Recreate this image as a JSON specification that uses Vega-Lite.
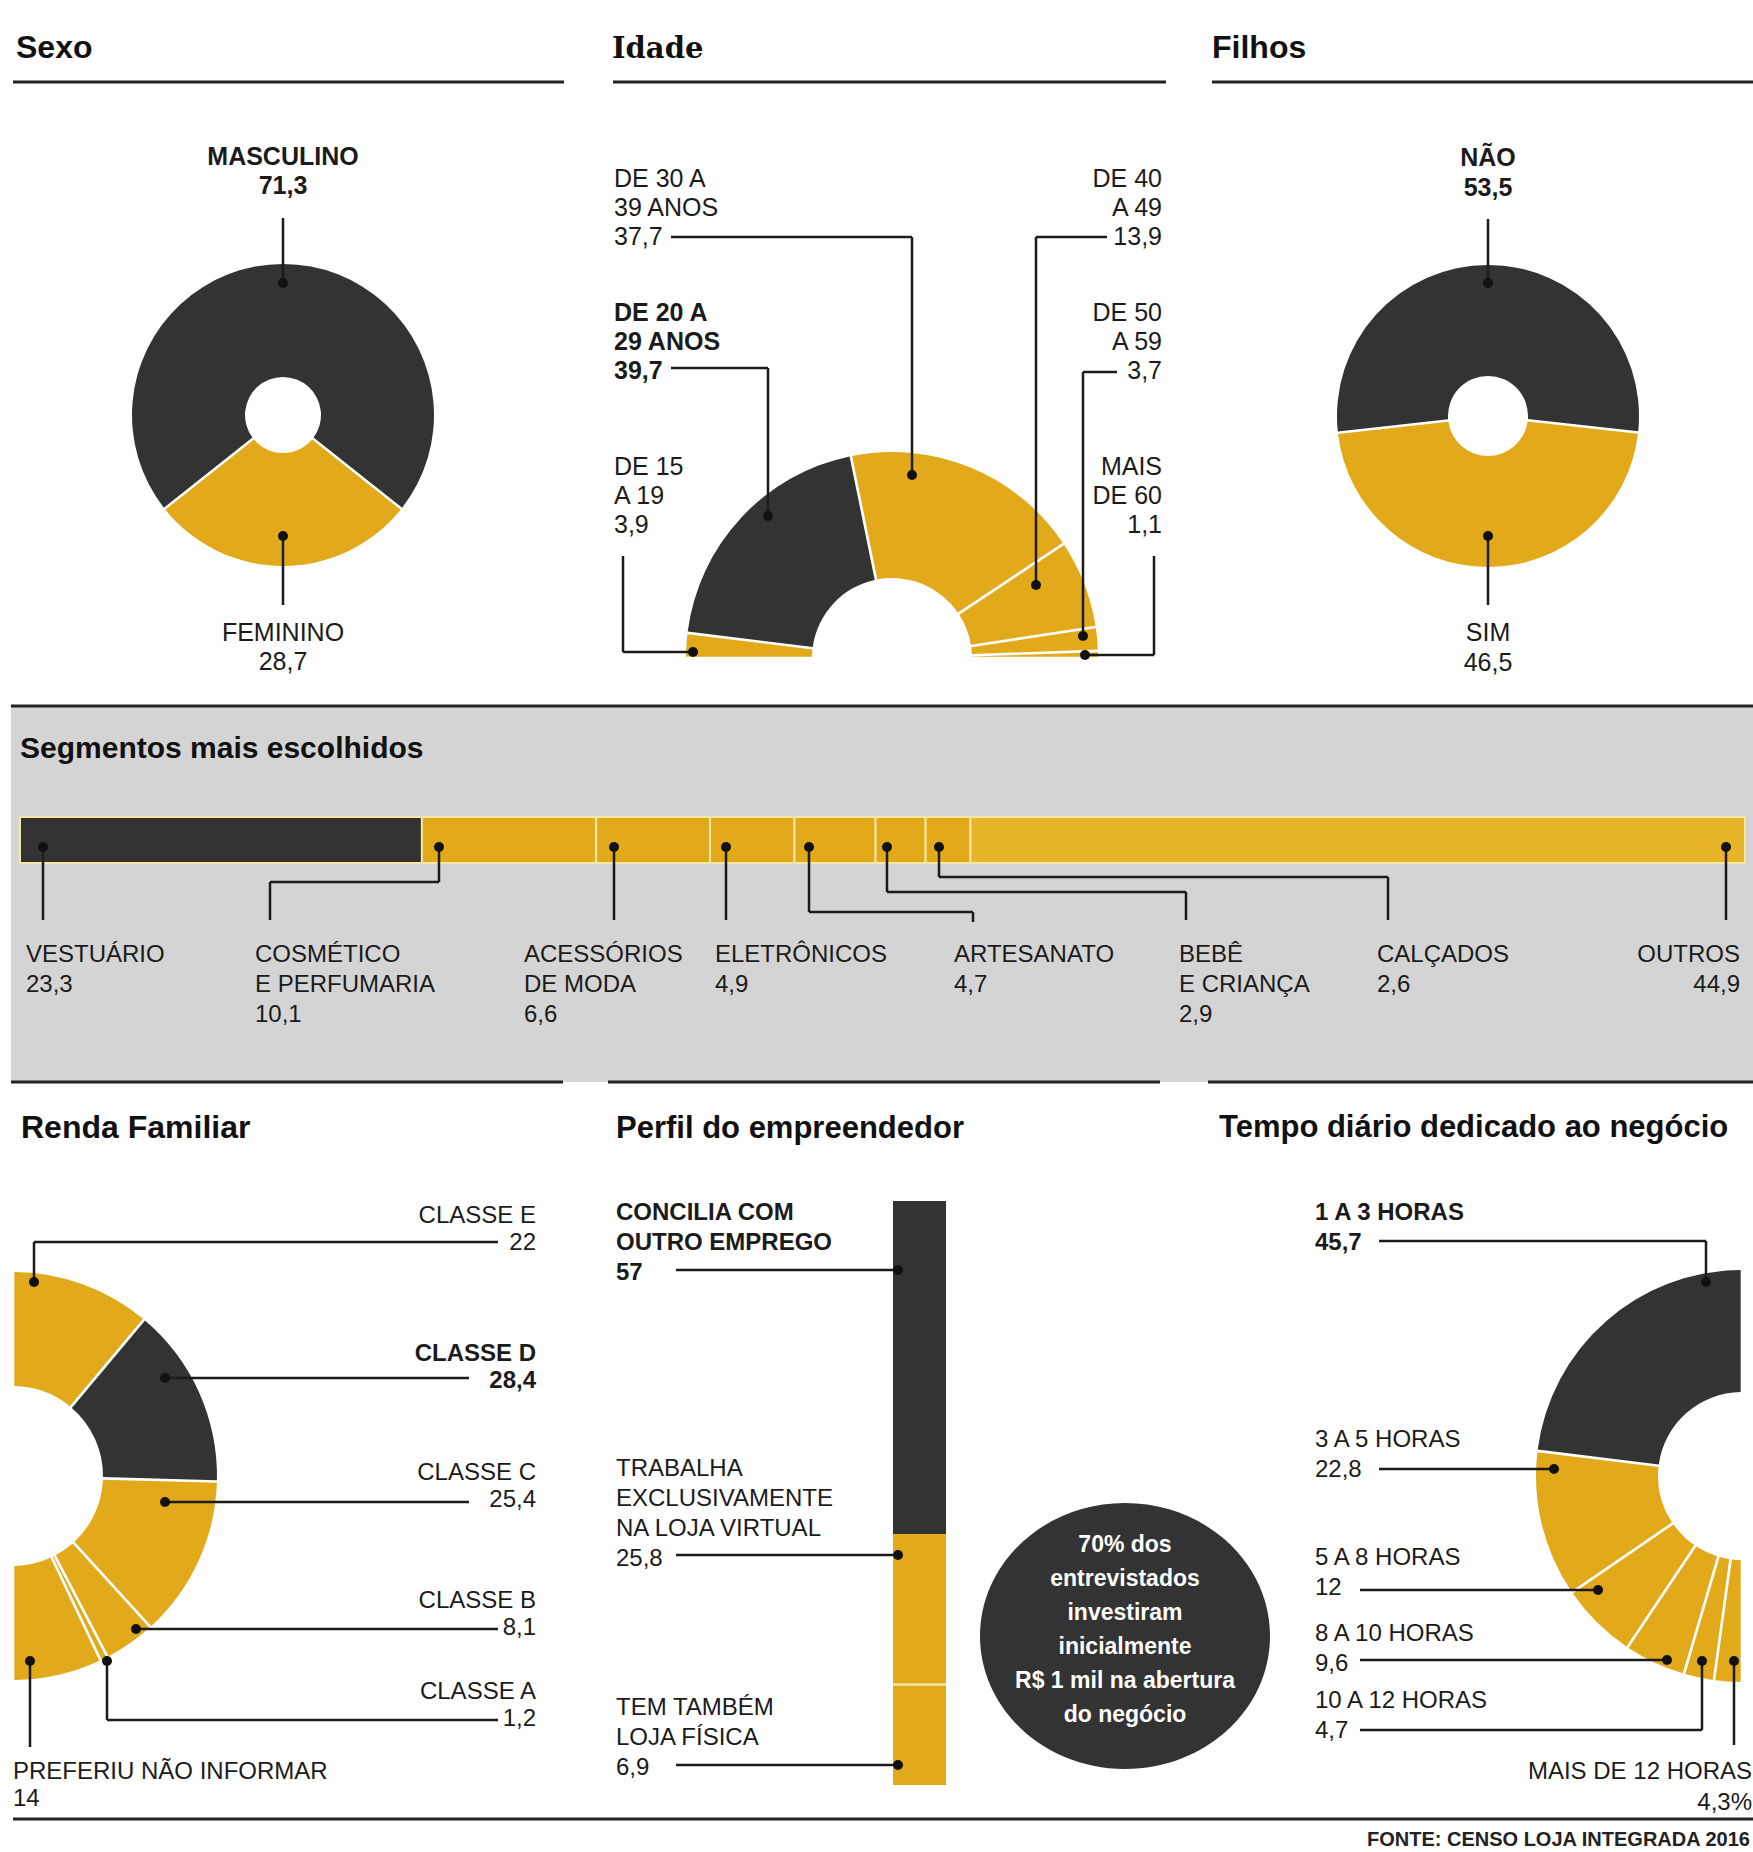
{
"$schema":"https://vega.github.io/schema/vega-lite/v6.json",
"width":1753,"height":1852,"autosize":{"type":"none"},"padding":0,"background":"#ffffff",
"config":{"view":{"stroke":null},"axis":{"disable":true},"legend":{"disable":true},"text":{"font":"Liberation Sans","color":"#1b1b1b"}},
"datasets":{
"sexo":[{"category":"MASCULINO","label":"MASCULINO","value":71.3},{"category":"FEMININO","label":"FEMININO","value":28.7}],
"idade":[{"category":"DE 15 A 19","label":"DE 15\nA 19","value":3.9},{"category":"DE 20 A 29 ANOS","label":"DE 20 A\n29 ANOS","value":39.7},{"category":"DE 30 A 39 ANOS","label":"DE 30 A\n39 ANOS","value":37.7},{"category":"DE 40 A 49","label":"DE 40\nA 49","value":13.9},{"category":"DE 50 A 59","label":"DE 50\nA 59","value":3.7},{"category":"MAIS DE 60","label":"MAIS\nDE 60","value":1.1}],
"filhos":[{"category":"NÃO","label":"NÃO","value":53.5},{"category":"SIM","label":"SIM","value":46.5}],
"segmentos":[{"category":"VESTUÁRIO","label":"VESTUÁRIO","value":23.3},{"category":"COSMÉTICO E PERFUMARIA","label":"COSMÉTICO\nE PERFUMARIA","value":10.1},{"category":"ACESSÓRIOS DE MODA","label":"ACESSÓRIOS\nDE MODA","value":6.6},{"category":"ELETRÔNICOS","label":"ELETRÔNICOS","value":4.9},{"category":"ARTESANATO","label":"ARTESANATO","value":4.7},{"category":"BEBÊ E CRIANÇA","label":"BEBÊ\nE CRIANÇA","value":2.9},{"category":"CALÇADOS","label":"CALÇADOS","value":2.6},{"category":"OUTROS","label":"OUTROS","value":44.9}],
"renda":[{"category":"CLASSE E","label":"CLASSE E","value":22},{"category":"CLASSE D","label":"CLASSE D","value":28.4},{"category":"CLASSE C","label":"CLASSE C","value":25.4},{"category":"CLASSE B","label":"CLASSE B","value":8.1},{"category":"CLASSE A","label":"CLASSE A","value":1.2},{"category":"PREFERIU NÃO INFORMAR","label":"PREFERIU NÃO INFORMAR","value":14}],
"perfil":[{"category":"CONCILIA COM OUTRO EMPREGO","label":"CONCILIA COM\nOUTRO EMPREGO","value":57},{"category":"TRABALHA EXCLUSIVAMENTE NA LOJA VIRTUAL","label":"TRABALHA\nEXCLUSIVAMENTE\nNA LOJA VIRTUAL","value":25.8},{"category":"TEM TAMBÉM LOJA FÍSICA","label":"TEM TAMBÉM\nLOJA FÍSICA","value":6.9}],
"tempo":[{"category":"1 A 3 HORAS","label":"1 A 3 HORAS","value":45.7},{"category":"3 A 5 HORAS","label":"3 A 5 HORAS","value":22.8},{"category":"5 A 8 HORAS","label":"5 A 8 HORAS","value":12},{"category":"8 A 10 HORAS","label":"8 A 10 HORAS","value":9.6},{"category":"10 A 12 HORAS","label":"10 A 12 HORAS","value":4.7},{"category":"MAIS DE 12 HORAS","label":"MAIS DE 12 HORAS","value":4.3}]
},
"resolve":{"scale":{"x":"independent","y":"independent"}},
"layer":[
{"data":{"values":[{}]},"mark":{"type":"rect","color":"#d4d4d4"},"encoding":{"x":{"datum":11,"type":"quantitative","scale":{"domain":[0,1753],"nice":false,"zero":false}},"x2":{"datum":1753},"y":{"datum":706,"type":"quantitative","scale":{"domain":[0,1852],"reverse":true,"nice":false,"zero":false}},"y2":{"datum":1082}}},
{"data":{"name":"segmentos"},"transform":[{"window":[{"op":"row_number","as":"i"}]},{"stack":"value","groupby":[],"sort":[{"field":"i","order":"ascending"}],"as":["v0","v1"]}],
 "mark":{"type":"rect","stroke":"#f6e7a6","strokeWidth":2},
 "encoding":{"x":{"field":"v0","type":"quantitative","scale":{"domain":[-1.1594,100.464],"nice":false,"zero":false}},"x2":{"field":"v1"},"y":{"datum":817,"type":"quantitative","scale":{"domain":[0,1852],"reverse":true,"nice":false,"zero":false}},"y2":{"datum":863},
 "color":{"condition":[{"test":"datum.category=='VESTUÁRIO'","value":"#333333"},{"test":"datum.category=='OUTROS'","value":"#e7b527"}],"value":"#e2aa1b"}}},
{"data":{"name":"perfil"},"transform":[{"window":[{"op":"row_number","as":"i"}]},{"stack":"value","groupby":[],"sort":[{"field":"i","order":"ascending"}],"as":["v0","v1"]}],
 "layer":[
 {"transform":[{"filter":"datum.i==1"}],"mark":{"type":"rect","color":"#e2aa1b"},"encoding":{"x":{"datum":893,"type":"quantitative","scale":{"domain":[0,1753],"nice":false,"zero":false}},"x2":{"datum":946},"y":{"datum":0,"type":"quantitative","scale":{"domain":[-205.65,111.47],"reverse":true,"nice":false,"zero":false}},"y2":{"datum":100}}},
 {"mark":{"type":"rect"},"encoding":{"x":{"datum":893,"type":"quantitative"},"x2":{"datum":946},"y":{"field":"v0","type":"quantitative"},"y2":{"field":"v1"},
  "color":{"condition":{"test":"datum.category=='CONCILIA COM OUTRO EMPREGO'","value":"#333333"},"value":"#e2aa1b"}}},
 {"transform":[{"filter":"datum.i==2"}],"mark":{"type":"rule","color":"#f6e7a6","strokeWidth":2.5},"encoding":{"x":{"datum":893,"type":"quantitative"},"x2":{"datum":946},"y":{"field":"v1","type":"quantitative"}}}
 ]},
{"resolve":{"scale":{"theta":"independent"}},
 "layer":[
 {"data":{"values":[{}]},"mark":{"type":"rule","color":"#222222","strokeWidth":3},"encoding":{"x":{"datum":13,"type":"quantitative","scale":{"domain":[0,1753],"nice":false,"zero":false}},"x2":{"datum":564},"y":{"datum":82,"type":"quantitative","scale":{"domain":[0,1852],"reverse":true,"nice":false,"zero":false}}}},
 {"data":{"values":[{}]},"mark":{"type":"rule","color":"#222222","strokeWidth":3},"encoding":{"x":{"datum":613,"type":"quantitative"},"x2":{"datum":1166},"y":{"datum":82,"type":"quantitative"}}},
 {"data":{"values":[{}]},"mark":{"type":"rule","color":"#222222","strokeWidth":3},"encoding":{"x":{"datum":1212,"type":"quantitative"},"x2":{"datum":1753},"y":{"datum":82,"type":"quantitative"}}},
 {"data":{"values":[{}]},"mark":{"type":"rule","color":"#222222","strokeWidth":3},"encoding":{"x":{"datum":11,"type":"quantitative"},"x2":{"datum":1753},"y":{"datum":706,"type":"quantitative"}}},
 {"data":{"values":[{}]},"mark":{"type":"rule","color":"#222222","strokeWidth":3},"encoding":{"x":{"datum":11,"type":"quantitative"},"x2":{"datum":563},"y":{"datum":1082,"type":"quantitative"}}},
 {"data":{"values":[{}]},"mark":{"type":"rule","color":"#222222","strokeWidth":3},"encoding":{"x":{"datum":608,"type":"quantitative"},"x2":{"datum":1160},"y":{"datum":1082,"type":"quantitative"}}},
 {"data":{"values":[{}]},"mark":{"type":"rule","color":"#222222","strokeWidth":3},"encoding":{"x":{"datum":1208,"type":"quantitative"},"x2":{"datum":1753},"y":{"datum":1082,"type":"quantitative"}}},
 {"data":{"values":[{}]},"mark":{"type":"rule","color":"#222222","strokeWidth":3},"encoding":{"x":{"datum":13,"type":"quantitative"},"x2":{"datum":1753},"y":{"datum":1819,"type":"quantitative"}}},
 {"data":{"values":[{}]},"mark":{"type":"text","text":"Sexo","align":"left","baseline":"alphabetic","fontSize":32,"fontWeight":"bold","color":"#111111"},"encoding":{"x":{"datum":16,"type":"quantitative"},"y":{"datum":58,"type":"quantitative"}}},
 {"data":{"values":[{}]},"mark":{"type":"text","text":"Idade","align":"left","baseline":"alphabetic","fontSize":29,"fontWeight":"bold","font":"DejaVu Serif","color":"#111111"},"encoding":{"x":{"datum":612,"type":"quantitative"},"y":{"datum":58,"type":"quantitative"}}},
 {"data":{"values":[{}]},"mark":{"type":"text","text":"Filhos","align":"left","baseline":"alphabetic","fontSize":32,"fontWeight":"bold","color":"#111111"},"encoding":{"x":{"datum":1212,"type":"quantitative"},"y":{"datum":58,"type":"quantitative"}}},
 {"data":{"values":[{}]},"mark":{"type":"text","text":"Segmentos mais escolhidos","align":"left","baseline":"alphabetic","fontSize":30,"fontWeight":"bold","color":"#111111"},"encoding":{"x":{"datum":20,"type":"quantitative"},"y":{"datum":758,"type":"quantitative"}}},
 {"data":{"values":[{}]},"mark":{"type":"text","text":"Renda Familiar","align":"left","baseline":"alphabetic","fontSize":32,"fontWeight":"bold","color":"#111111"},"encoding":{"x":{"datum":21,"type":"quantitative"},"y":{"datum":1138,"type":"quantitative"}}},
 {"data":{"values":[{}]},"mark":{"type":"text","text":"Perfil do empreendedor","align":"left","baseline":"alphabetic","fontSize":31,"fontWeight":"bold","color":"#111111"},"encoding":{"x":{"datum":616,"type":"quantitative"},"y":{"datum":1138,"type":"quantitative"}}},
 {"data":{"values":[{}]},"mark":{"type":"text","text":"Tempo diário dedicado ao negócio","align":"left","baseline":"alphabetic","fontSize":31,"fontWeight":"bold","color":"#111111"},"encoding":{"x":{"datum":1219,"type":"quantitative"},"y":{"datum":1137,"type":"quantitative"}}},
 {"data":{"values":[{}]},"mark":{"type":"text","text":"FONTE: CENSO LOJA INTEGRADA 2016","align":"right","baseline":"alphabetic","fontSize":20,"fontWeight":"bold","color":"#222222"},"encoding":{"x":{"datum":1750,"type":"quantitative"},"y":{"datum":1846,"type":"quantitative"}}},

 {"data":{"name":"sexo"},"transform":[{"calculate":"datum.label+'\\n'+replace(format(datum.value,'.1~f'),'.',',')","as":"txt"},{"window":[{"op":"row_number","as":"i"}]},{"stack":"value","groupby":[],"sort":[{"field":"i","order":"ascending"}],"as":["v0","v1"]}],
  "layer":[
  {"mark":{"type":"arc","outerRadius":151,"innerRadius":38,"padAngle":0.016},"encoding":{"x":{"datum":283,"type":"quantitative"},"y":{"datum":415,"type":"quantitative"},"theta":{"field":"v0","type":"quantitative","scale":{"domain":[0,100],"range":[4.0433,10.3265]}},"theta2":{"field":"v1"},"color":{"condition":{"test":"datum.category=='MASCULINO'","value":"#333333"},"value":"#e2aa1b"}}},
  {"transform":[{"filter":"datum.category=='MASCULINO'"}],"layer":[
   {"mark":{"type":"rule","color":"#1b1b1b","strokeWidth":2.5},"encoding":{"x":{"datum":283,"type":"quantitative"},"y":{"datum":218,"type":"quantitative"},"y2":{"datum":283}}},
   {"mark":{"type":"circle","size":100,"color":"#111111","opacity":1},"encoding":{"x":{"datum":283,"type":"quantitative"},"y":{"datum":283,"type":"quantitative"}}},
   {"mark":{"type":"text","align":"center","baseline":"alphabetic","fontSize":25,"fontWeight":"bold","lineHeight":29,"lineBreak":"\n"},"encoding":{"x":{"datum":283,"type":"quantitative"},"y":{"datum":165,"type":"quantitative"},"text":{"field":"txt"}}}]},
  {"transform":[{"filter":"datum.category=='FEMININO'"}],"layer":[
   {"mark":{"type":"rule","color":"#1b1b1b","strokeWidth":2.5},"encoding":{"x":{"datum":283,"type":"quantitative"},"y":{"datum":536,"type":"quantitative"},"y2":{"datum":605}}},
   {"mark":{"type":"circle","size":100,"color":"#111111","opacity":1},"encoding":{"x":{"datum":283,"type":"quantitative"},"y":{"datum":536,"type":"quantitative"}}},
   {"mark":{"type":"text","align":"center","baseline":"alphabetic","fontSize":25,"lineHeight":29,"lineBreak":"\n"},"encoding":{"x":{"datum":283,"type":"quantitative"},"y":{"datum":641,"type":"quantitative"},"text":{"field":"txt"}}}]}
 ]},

 {"data":{"name":"idade"},"transform":[{"calculate":"datum.label+'\\n'+replace(format(datum.value,'.1~f'),'.',',')","as":"txt"},{"window":[{"op":"row_number","as":"i"}]},{"stack":"value","groupby":[],"sort":[{"field":"i","order":"ascending"}],"as":["v0","v1"]}],
  "layer":[
  {"mark":{"type":"arc","outerRadius":206,"innerRadius":80,"padAngle":0.012},"encoding":{"x":{"datum":892,"type":"quantitative"},"y":{"datum":658,"type":"quantitative"},"theta":{"field":"v0","type":"quantitative","scale":{"domain":[0,100],"range":[-1.5708,1.5708]}},"theta2":{"field":"v1"},"color":{"condition":{"test":"datum.category=='DE 20 A 29 ANOS'","value":"#333333"},"value":"#e2aa1b"}}},
  {"transform":[{"filter":"datum.category=='DE 30 A 39 ANOS'"}],"layer":[
   {"mark":{"type":"rule","color":"#1b1b1b","strokeWidth":2.5},"encoding":{"x":{"datum":671,"type":"quantitative"},"x2":{"datum":912},"y":{"datum":237,"type":"quantitative"}}},
   {"mark":{"type":"rule","color":"#1b1b1b","strokeWidth":2.5},"encoding":{"x":{"datum":912,"type":"quantitative"},"y":{"datum":237,"type":"quantitative"},"y2":{"datum":475}}},
   {"mark":{"type":"circle","size":100,"color":"#111111","opacity":1},"encoding":{"x":{"datum":912,"type":"quantitative"},"y":{"datum":475,"type":"quantitative"}}},
   {"mark":{"type":"text","align":"left","baseline":"alphabetic","fontSize":25,"lineHeight":29,"lineBreak":"\n"},"encoding":{"x":{"datum":614,"type":"quantitative"},"y":{"datum":187,"type":"quantitative"},"text":{"field":"txt"}}}]},
  {"transform":[{"filter":"datum.category=='DE 20 A 29 ANOS'"}],"layer":[
   {"mark":{"type":"rule","color":"#1b1b1b","strokeWidth":2.5},"encoding":{"x":{"datum":671,"type":"quantitative"},"x2":{"datum":768},"y":{"datum":368,"type":"quantitative"}}},
   {"mark":{"type":"rule","color":"#1b1b1b","strokeWidth":2.5},"encoding":{"x":{"datum":768,"type":"quantitative"},"y":{"datum":368,"type":"quantitative"},"y2":{"datum":516}}},
   {"mark":{"type":"circle","size":100,"color":"#111111","opacity":1},"encoding":{"x":{"datum":768,"type":"quantitative"},"y":{"datum":516,"type":"quantitative"}}},
   {"mark":{"type":"text","align":"left","baseline":"alphabetic","fontSize":25,"fontWeight":"bold","lineHeight":29,"lineBreak":"\n"},"encoding":{"x":{"datum":614,"type":"quantitative"},"y":{"datum":321,"type":"quantitative"},"text":{"field":"txt"}}}]},
  {"transform":[{"filter":"datum.category=='DE 15 A 19'"}],"layer":[
   {"mark":{"type":"rule","color":"#1b1b1b","strokeWidth":2.5},"encoding":{"x":{"datum":623,"type":"quantitative"},"y":{"datum":556,"type":"quantitative"},"y2":{"datum":652}}},
   {"mark":{"type":"rule","color":"#1b1b1b","strokeWidth":2.5},"encoding":{"x":{"datum":623,"type":"quantitative"},"x2":{"datum":693},"y":{"datum":652,"type":"quantitative"}}},
   {"mark":{"type":"circle","size":100,"color":"#111111","opacity":1},"encoding":{"x":{"datum":693,"type":"quantitative"},"y":{"datum":652,"type":"quantitative"}}},
   {"mark":{"type":"text","align":"left","baseline":"alphabetic","fontSize":25,"lineHeight":29,"lineBreak":"\n"},"encoding":{"x":{"datum":614,"type":"quantitative"},"y":{"datum":475,"type":"quantitative"},"text":{"field":"txt"}}}]},
  {"transform":[{"filter":"datum.category=='DE 40 A 49'"}],"layer":[
   {"mark":{"type":"rule","color":"#1b1b1b","strokeWidth":2.5},"encoding":{"x":{"datum":1036,"type":"quantitative"},"x2":{"datum":1107},"y":{"datum":237,"type":"quantitative"}}},
   {"mark":{"type":"rule","color":"#1b1b1b","strokeWidth":2.5},"encoding":{"x":{"datum":1036,"type":"quantitative"},"y":{"datum":237,"type":"quantitative"},"y2":{"datum":585}}},
   {"mark":{"type":"circle","size":100,"color":"#111111","opacity":1},"encoding":{"x":{"datum":1036,"type":"quantitative"},"y":{"datum":585,"type":"quantitative"}}},
   {"mark":{"type":"text","align":"right","baseline":"alphabetic","fontSize":25,"lineHeight":29,"lineBreak":"\n"},"encoding":{"x":{"datum":1162,"type":"quantitative"},"y":{"datum":187,"type":"quantitative"},"text":{"field":"txt"}}}]},
  {"transform":[{"filter":"datum.category=='DE 50 A 59'"}],"layer":[
   {"mark":{"type":"rule","color":"#1b1b1b","strokeWidth":2.5},"encoding":{"x":{"datum":1083,"type":"quantitative"},"x2":{"datum":1117},"y":{"datum":372,"type":"quantitative"}}},
   {"mark":{"type":"rule","color":"#1b1b1b","strokeWidth":2.5},"encoding":{"x":{"datum":1083,"type":"quantitative"},"y":{"datum":372,"type":"quantitative"},"y2":{"datum":636}}},
   {"mark":{"type":"circle","size":100,"color":"#111111","opacity":1},"encoding":{"x":{"datum":1083,"type":"quantitative"},"y":{"datum":636,"type":"quantitative"}}},
   {"mark":{"type":"text","align":"right","baseline":"alphabetic","fontSize":25,"lineHeight":29,"lineBreak":"\n"},"encoding":{"x":{"datum":1162,"type":"quantitative"},"y":{"datum":321,"type":"quantitative"},"text":{"field":"txt"}}}]},
  {"transform":[{"filter":"datum.category=='MAIS DE 60'"}],"layer":[
   {"mark":{"type":"rule","color":"#1b1b1b","strokeWidth":2.5},"encoding":{"x":{"datum":1154,"type":"quantitative"},"y":{"datum":556,"type":"quantitative"},"y2":{"datum":655}}},
   {"mark":{"type":"rule","color":"#1b1b1b","strokeWidth":2.5},"encoding":{"x":{"datum":1085,"type":"quantitative"},"x2":{"datum":1154},"y":{"datum":655,"type":"quantitative"}}},
   {"mark":{"type":"circle","size":100,"color":"#111111","opacity":1},"encoding":{"x":{"datum":1085,"type":"quantitative"},"y":{"datum":655,"type":"quantitative"}}},
   {"mark":{"type":"text","align":"right","baseline":"alphabetic","fontSize":25,"lineHeight":29,"lineBreak":"\n"},"encoding":{"x":{"datum":1162,"type":"quantitative"},"y":{"datum":475,"type":"quantitative"},"text":{"field":"txt"}}}]}
 ]},

 {"data":{"name":"filhos"},"transform":[{"calculate":"datum.label+'\\n'+replace(format(datum.value,'.1~f'),'.',',')","as":"txt"},{"window":[{"op":"row_number","as":"i"}]},{"stack":"value","groupby":[],"sort":[{"field":"i","order":"ascending"}],"as":["v0","v1"]}],
  "layer":[
  {"mark":{"type":"arc","outerRadius":151,"innerRadius":40,"padAngle":0.016},"encoding":{"x":{"datum":1488,"type":"quantitative"},"y":{"datum":416,"type":"quantitative"},"theta":{"field":"v0","type":"quantitative","scale":{"domain":[0,100],"range":[-1.6813,4.6019]}},"theta2":{"field":"v1"},"color":{"condition":{"test":"datum.category=='NÃO'","value":"#333333"},"value":"#e2aa1b"}}},
  {"transform":[{"filter":"datum.category=='NÃO'"}],"layer":[
   {"mark":{"type":"rule","color":"#1b1b1b","strokeWidth":2.5},"encoding":{"x":{"datum":1488,"type":"quantitative"},"y":{"datum":219,"type":"quantitative"},"y2":{"datum":283}}},
   {"mark":{"type":"circle","size":100,"color":"#111111","opacity":1},"encoding":{"x":{"datum":1488,"type":"quantitative"},"y":{"datum":283,"type":"quantitative"}}},
   {"mark":{"type":"text","align":"center","baseline":"alphabetic","fontSize":25,"fontWeight":"bold","lineHeight":30,"lineBreak":"\n"},"encoding":{"x":{"datum":1488,"type":"quantitative"},"y":{"datum":166,"type":"quantitative"},"text":{"field":"txt"}}}]},
  {"transform":[{"filter":"datum.category=='SIM'"}],"layer":[
   {"mark":{"type":"rule","color":"#1b1b1b","strokeWidth":2.5},"encoding":{"x":{"datum":1488,"type":"quantitative"},"y":{"datum":536,"type":"quantitative"},"y2":{"datum":605}}},
   {"mark":{"type":"circle","size":100,"color":"#111111","opacity":1},"encoding":{"x":{"datum":1488,"type":"quantitative"},"y":{"datum":536,"type":"quantitative"}}},
   {"mark":{"type":"text","align":"center","baseline":"alphabetic","fontSize":25,"lineHeight":30,"lineBreak":"\n"},"encoding":{"x":{"datum":1488,"type":"quantitative"},"y":{"datum":641,"type":"quantitative"},"text":{"field":"txt"}}}]}
 ]},

 {"data":{"name":"segmentos"},"transform":[{"calculate":"datum.label+'\\n'+replace(format(datum.value,'.1~f'),'.',',')","as":"txt"}],
  "layer":[
  {"transform":[{"filter":"datum.category=='VESTUÁRIO'"}],"layer":[
   {"mark":{"type":"rule","color":"#1b1b1b","strokeWidth":2.5},"encoding":{"x":{"datum":43,"type":"quantitative"},"y":{"datum":847,"type":"quantitative"},"y2":{"datum":920}}},
   {"mark":{"type":"circle","size":100,"color":"#111111","opacity":1},"encoding":{"x":{"datum":43,"type":"quantitative"},"y":{"datum":847,"type":"quantitative"}}},
   {"mark":{"type":"text","align":"left","baseline":"alphabetic","fontSize":24,"lineHeight":30,"lineBreak":"\n"},"encoding":{"x":{"datum":26,"type":"quantitative"},"y":{"datum":962,"type":"quantitative"},"text":{"field":"txt"}}}]},
  {"transform":[{"filter":"datum.category=='COSMÉTICO E PERFUMARIA'"}],"layer":[
   {"mark":{"type":"rule","color":"#1b1b1b","strokeWidth":2.5},"encoding":{"x":{"datum":439,"type":"quantitative"},"y":{"datum":847,"type":"quantitative"},"y2":{"datum":882}}},
   {"mark":{"type":"rule","color":"#1b1b1b","strokeWidth":2.5},"encoding":{"x":{"datum":270,"type":"quantitative"},"x2":{"datum":439},"y":{"datum":882,"type":"quantitative"}}},
   {"mark":{"type":"rule","color":"#1b1b1b","strokeWidth":2.5},"encoding":{"x":{"datum":270,"type":"quantitative"},"y":{"datum":882,"type":"quantitative"},"y2":{"datum":920}}},
   {"mark":{"type":"circle","size":100,"color":"#111111","opacity":1},"encoding":{"x":{"datum":439,"type":"quantitative"},"y":{"datum":847,"type":"quantitative"}}},
   {"mark":{"type":"text","align":"left","baseline":"alphabetic","fontSize":24,"lineHeight":30,"lineBreak":"\n"},"encoding":{"x":{"datum":255,"type":"quantitative"},"y":{"datum":962,"type":"quantitative"},"text":{"field":"txt"}}}]},
  {"transform":[{"filter":"datum.category=='ACESSÓRIOS DE MODA'"}],"layer":[
   {"mark":{"type":"rule","color":"#1b1b1b","strokeWidth":2.5},"encoding":{"x":{"datum":614,"type":"quantitative"},"y":{"datum":847,"type":"quantitative"},"y2":{"datum":920}}},
   {"mark":{"type":"circle","size":100,"color":"#111111","opacity":1},"encoding":{"x":{"datum":614,"type":"quantitative"},"y":{"datum":847,"type":"quantitative"}}},
   {"mark":{"type":"text","align":"left","baseline":"alphabetic","fontSize":24,"lineHeight":30,"lineBreak":"\n"},"encoding":{"x":{"datum":524,"type":"quantitative"},"y":{"datum":962,"type":"quantitative"},"text":{"field":"txt"}}}]},
  {"transform":[{"filter":"datum.category=='ELETRÔNICOS'"}],"layer":[
   {"mark":{"type":"rule","color":"#1b1b1b","strokeWidth":2.5},"encoding":{"x":{"datum":726,"type":"quantitative"},"y":{"datum":847,"type":"quantitative"},"y2":{"datum":920}}},
   {"mark":{"type":"circle","size":100,"color":"#111111","opacity":1},"encoding":{"x":{"datum":726,"type":"quantitative"},"y":{"datum":847,"type":"quantitative"}}},
   {"mark":{"type":"text","align":"left","baseline":"alphabetic","fontSize":24,"lineHeight":30,"lineBreak":"\n"},"encoding":{"x":{"datum":715,"type":"quantitative"},"y":{"datum":962,"type":"quantitative"},"text":{"field":"txt"}}}]},
  {"transform":[{"filter":"datum.category=='ARTESANATO'"}],"layer":[
   {"mark":{"type":"rule","color":"#1b1b1b","strokeWidth":2.5},"encoding":{"x":{"datum":809,"type":"quantitative"},"y":{"datum":847,"type":"quantitative"},"y2":{"datum":912}}},
   {"mark":{"type":"rule","color":"#1b1b1b","strokeWidth":2.5},"encoding":{"x":{"datum":809,"type":"quantitative"},"x2":{"datum":973},"y":{"datum":912,"type":"quantitative"}}},
   {"mark":{"type":"rule","color":"#1b1b1b","strokeWidth":2.5},"encoding":{"x":{"datum":973,"type":"quantitative"},"y":{"datum":912,"type":"quantitative"},"y2":{"datum":922}}},
   {"mark":{"type":"circle","size":100,"color":"#111111","opacity":1},"encoding":{"x":{"datum":809,"type":"quantitative"},"y":{"datum":847,"type":"quantitative"}}},
   {"mark":{"type":"text","align":"left","baseline":"alphabetic","fontSize":24,"lineHeight":30,"lineBreak":"\n"},"encoding":{"x":{"datum":954,"type":"quantitative"},"y":{"datum":962,"type":"quantitative"},"text":{"field":"txt"}}}]},
  {"transform":[{"filter":"datum.category=='BEBÊ E CRIANÇA'"}],"layer":[
   {"mark":{"type":"rule","color":"#1b1b1b","strokeWidth":2.5},"encoding":{"x":{"datum":887,"type":"quantitative"},"y":{"datum":847,"type":"quantitative"},"y2":{"datum":892}}},
   {"mark":{"type":"rule","color":"#1b1b1b","strokeWidth":2.5},"encoding":{"x":{"datum":887,"type":"quantitative"},"x2":{"datum":1186},"y":{"datum":892,"type":"quantitative"}}},
   {"mark":{"type":"rule","color":"#1b1b1b","strokeWidth":2.5},"encoding":{"x":{"datum":1186,"type":"quantitative"},"y":{"datum":892,"type":"quantitative"},"y2":{"datum":920}}},
   {"mark":{"type":"circle","size":100,"color":"#111111","opacity":1},"encoding":{"x":{"datum":887,"type":"quantitative"},"y":{"datum":847,"type":"quantitative"}}},
   {"mark":{"type":"text","align":"left","baseline":"alphabetic","fontSize":24,"lineHeight":30,"lineBreak":"\n"},"encoding":{"x":{"datum":1179,"type":"quantitative"},"y":{"datum":962,"type":"quantitative"},"text":{"field":"txt"}}}]},
  {"transform":[{"filter":"datum.category=='CALÇADOS'"}],"layer":[
   {"mark":{"type":"rule","color":"#1b1b1b","strokeWidth":2.5},"encoding":{"x":{"datum":939,"type":"quantitative"},"y":{"datum":847,"type":"quantitative"},"y2":{"datum":877}}},
   {"mark":{"type":"rule","color":"#1b1b1b","strokeWidth":2.5},"encoding":{"x":{"datum":939,"type":"quantitative"},"x2":{"datum":1388},"y":{"datum":877,"type":"quantitative"}}},
   {"mark":{"type":"rule","color":"#1b1b1b","strokeWidth":2.5},"encoding":{"x":{"datum":1388,"type":"quantitative"},"y":{"datum":877,"type":"quantitative"},"y2":{"datum":920}}},
   {"mark":{"type":"circle","size":100,"color":"#111111","opacity":1},"encoding":{"x":{"datum":939,"type":"quantitative"},"y":{"datum":847,"type":"quantitative"}}},
   {"mark":{"type":"text","align":"left","baseline":"alphabetic","fontSize":24,"lineHeight":30,"lineBreak":"\n"},"encoding":{"x":{"datum":1377,"type":"quantitative"},"y":{"datum":962,"type":"quantitative"},"text":{"field":"txt"}}}]},
  {"transform":[{"filter":"datum.category=='OUTROS'"}],"layer":[
   {"mark":{"type":"rule","color":"#1b1b1b","strokeWidth":2.5},"encoding":{"x":{"datum":1726,"type":"quantitative"},"y":{"datum":847,"type":"quantitative"},"y2":{"datum":920}}},
   {"mark":{"type":"circle","size":100,"color":"#111111","opacity":1},"encoding":{"x":{"datum":1726,"type":"quantitative"},"y":{"datum":847,"type":"quantitative"}}},
   {"mark":{"type":"text","align":"right","baseline":"alphabetic","fontSize":24,"lineHeight":30,"lineBreak":"\n"},"encoding":{"x":{"datum":1740,"type":"quantitative"},"y":{"datum":962,"type":"quantitative"},"text":{"field":"txt"}}}]}
 ]},

 {"data":{"name":"renda"},"transform":[{"calculate":"datum.label+'\\n'+replace(format(datum.value,'.1~f'),'.',',')","as":"txt"},{"window":[{"op":"row_number","as":"i"}]},{"stack":"value","groupby":[],"sort":[{"field":"i","order":"ascending"}],"as":["v0","v1"]}],
  "layer":[
  {"mark":{"type":"arc","outerRadius":204,"innerRadius":90,"padAngle":0.012},"encoding":{"x":{"datum":13,"type":"quantitative"},"y":{"datum":1476,"type":"quantitative"},"theta":{"field":"v0","type":"quantitative","scale":{"domain":[0,99.1],"range":[0,3.1416]}},"theta2":{"field":"v1"},"color":{"condition":{"test":"datum.category=='CLASSE D'","value":"#333333"},"value":"#e2aa1b"}}},
  {"transform":[{"filter":"datum.category=='CLASSE E'"}],"layer":[
   {"mark":{"type":"rule","color":"#1b1b1b","strokeWidth":2.5},"encoding":{"x":{"datum":34,"type":"quantitative"},"x2":{"datum":498},"y":{"datum":1242,"type":"quantitative"}}},
   {"mark":{"type":"rule","color":"#1b1b1b","strokeWidth":2.5},"encoding":{"x":{"datum":34,"type":"quantitative"},"y":{"datum":1242,"type":"quantitative"},"y2":{"datum":1282}}},
   {"mark":{"type":"circle","size":100,"color":"#111111","opacity":1},"encoding":{"x":{"datum":34,"type":"quantitative"},"y":{"datum":1282,"type":"quantitative"}}},
   {"mark":{"type":"text","align":"right","baseline":"alphabetic","fontSize":24,"lineHeight":27,"lineBreak":"\n"},"encoding":{"x":{"datum":536,"type":"quantitative"},"y":{"datum":1223,"type":"quantitative"},"text":{"field":"txt"}}}]},
  {"transform":[{"filter":"datum.category=='CLASSE D'"}],"layer":[
   {"mark":{"type":"rule","color":"#1b1b1b","strokeWidth":2.5},"encoding":{"x":{"datum":165,"type":"quantitative"},"x2":{"datum":469},"y":{"datum":1378,"type":"quantitative"}}},
   {"mark":{"type":"circle","size":100,"color":"#111111","opacity":1},"encoding":{"x":{"datum":165,"type":"quantitative"},"y":{"datum":1378,"type":"quantitative"}}},
   {"mark":{"type":"text","align":"right","baseline":"alphabetic","fontSize":24,"fontWeight":"bold","lineHeight":27,"lineBreak":"\n"},"encoding":{"x":{"datum":536,"type":"quantitative"},"y":{"datum":1361,"type":"quantitative"},"text":{"field":"txt"}}}]},
  {"transform":[{"filter":"datum.category=='CLASSE C'"}],"layer":[
   {"mark":{"type":"rule","color":"#1b1b1b","strokeWidth":2.5},"encoding":{"x":{"datum":165,"type":"quantitative"},"x2":{"datum":469},"y":{"datum":1502,"type":"quantitative"}}},
   {"mark":{"type":"circle","size":100,"color":"#111111","opacity":1},"encoding":{"x":{"datum":165,"type":"quantitative"},"y":{"datum":1502,"type":"quantitative"}}},
   {"mark":{"type":"text","align":"right","baseline":"alphabetic","fontSize":24,"lineHeight":27,"lineBreak":"\n"},"encoding":{"x":{"datum":536,"type":"quantitative"},"y":{"datum":1480,"type":"quantitative"},"text":{"field":"txt"}}}]},
  {"transform":[{"filter":"datum.category=='CLASSE B'"}],"layer":[
   {"mark":{"type":"rule","color":"#1b1b1b","strokeWidth":2.5},"encoding":{"x":{"datum":136,"type":"quantitative"},"x2":{"datum":498},"y":{"datum":1629,"type":"quantitative"}}},
   {"mark":{"type":"circle","size":100,"color":"#111111","opacity":1},"encoding":{"x":{"datum":136,"type":"quantitative"},"y":{"datum":1629,"type":"quantitative"}}},
   {"mark":{"type":"text","align":"right","baseline":"alphabetic","fontSize":24,"lineHeight":27,"lineBreak":"\n"},"encoding":{"x":{"datum":536,"type":"quantitative"},"y":{"datum":1608,"type":"quantitative"},"text":{"field":"txt"}}}]},
  {"transform":[{"filter":"datum.category=='CLASSE A'"}],"layer":[
   {"mark":{"type":"rule","color":"#1b1b1b","strokeWidth":2.5},"encoding":{"x":{"datum":107,"type":"quantitative"},"y":{"datum":1661,"type":"quantitative"},"y2":{"datum":1720}}},
   {"mark":{"type":"rule","color":"#1b1b1b","strokeWidth":2.5},"encoding":{"x":{"datum":107,"type":"quantitative"},"x2":{"datum":498},"y":{"datum":1720,"type":"quantitative"}}},
   {"mark":{"type":"circle","size":100,"color":"#111111","opacity":1},"encoding":{"x":{"datum":107,"type":"quantitative"},"y":{"datum":1661,"type":"quantitative"}}},
   {"mark":{"type":"text","align":"right","baseline":"alphabetic","fontSize":24,"lineHeight":27,"lineBreak":"\n"},"encoding":{"x":{"datum":536,"type":"quantitative"},"y":{"datum":1699,"type":"quantitative"},"text":{"field":"txt"}}}]},
  {"transform":[{"filter":"datum.category=='PREFERIU NÃO INFORMAR'"}],"layer":[
   {"mark":{"type":"rule","color":"#1b1b1b","strokeWidth":2.5},"encoding":{"x":{"datum":30,"type":"quantitative"},"y":{"datum":1661,"type":"quantitative"},"y2":{"datum":1747}}},
   {"mark":{"type":"circle","size":100,"color":"#111111","opacity":1},"encoding":{"x":{"datum":30,"type":"quantitative"},"y":{"datum":1661,"type":"quantitative"}}},
   {"mark":{"type":"text","align":"left","baseline":"alphabetic","fontSize":24,"lineHeight":27,"lineBreak":"\n"},"encoding":{"x":{"datum":13,"type":"quantitative"},"y":{"datum":1779,"type":"quantitative"},"text":{"field":"txt"}}}]}
 ]},

 {"data":{"name":"perfil"},"transform":[{"calculate":"datum.label+'\\n'+replace(format(datum.value,'.1~f'),'.',',')","as":"txt"}],
  "layer":[
  {"transform":[{"filter":"datum.category=='CONCILIA COM OUTRO EMPREGO'"}],"layer":[
   {"mark":{"type":"rule","color":"#1b1b1b","strokeWidth":2.5},"encoding":{"x":{"datum":676,"type":"quantitative"},"x2":{"datum":898},"y":{"datum":1270,"type":"quantitative"}}},
   {"mark":{"type":"circle","size":100,"color":"#111111","opacity":1},"encoding":{"x":{"datum":898,"type":"quantitative"},"y":{"datum":1270,"type":"quantitative"}}},
   {"mark":{"type":"text","align":"left","baseline":"alphabetic","fontSize":24,"fontWeight":"bold","lineHeight":30,"lineBreak":"\n"},"encoding":{"x":{"datum":616,"type":"quantitative"},"y":{"datum":1220,"type":"quantitative"},"text":{"field":"txt"}}}]},
  {"transform":[{"filter":"datum.category=='TRABALHA EXCLUSIVAMENTE NA LOJA VIRTUAL'"}],"layer":[
   {"mark":{"type":"rule","color":"#1b1b1b","strokeWidth":2.5},"encoding":{"x":{"datum":676,"type":"quantitative"},"x2":{"datum":898},"y":{"datum":1555,"type":"quantitative"}}},
   {"mark":{"type":"circle","size":100,"color":"#111111","opacity":1},"encoding":{"x":{"datum":898,"type":"quantitative"},"y":{"datum":1555,"type":"quantitative"}}},
   {"mark":{"type":"text","align":"left","baseline":"alphabetic","fontSize":24,"lineHeight":30,"lineBreak":"\n"},"encoding":{"x":{"datum":616,"type":"quantitative"},"y":{"datum":1476,"type":"quantitative"},"text":{"field":"txt"}}}]},
  {"transform":[{"filter":"datum.category=='TEM TAMBÉM LOJA FÍSICA'"}],"layer":[
   {"mark":{"type":"rule","color":"#1b1b1b","strokeWidth":2.5},"encoding":{"x":{"datum":676,"type":"quantitative"},"x2":{"datum":898},"y":{"datum":1765,"type":"quantitative"}}},
   {"mark":{"type":"circle","size":100,"color":"#111111","opacity":1},"encoding":{"x":{"datum":898,"type":"quantitative"},"y":{"datum":1765,"type":"quantitative"}}},
   {"mark":{"type":"text","align":"left","baseline":"alphabetic","fontSize":24,"lineHeight":30,"lineBreak":"\n"},"encoding":{"x":{"datum":616,"type":"quantitative"},"y":{"datum":1715,"type":"quantitative"},"text":{"field":"txt"}}}]}
 ]},

 {"data":{"values":[{}]},"mark":{"type":"point","shape":"M-1,0A1,0.917,0,1,0,1,0A1,0.917,0,1,0,-1,0Z","size":84100,"filled":true,"color":"#333333","opacity":1},"encoding":{"x":{"datum":1125,"type":"quantitative"},"y":{"datum":1636,"type":"quantitative"}}},
 {"data":{"values":[{}]},"mark":{"type":"text","text":["70% dos","entrevistados","investiram","inicialmente","R$ 1 mil na abertura","do negócio"],"align":"center","baseline":"alphabetic","fontSize":23,"fontWeight":"bold","lineHeight":34,"color":"#ffffff"},"encoding":{"x":{"datum":1125,"type":"quantitative"},"y":{"datum":1552,"type":"quantitative"}}},

 {"data":{"name":"tempo"},"transform":[{"calculate":"datum.label+'\\n'+replace(format(datum.value,'.1~f'),'.',',')+(datum.category=='MAIS DE 12 HORAS'?'%':'')","as":"txt"},{"window":[{"op":"row_number","as":"i"}]},{"stack":"value","groupby":[],"sort":[{"field":"i","order":"ascending"}],"as":["v0","v1"]}],
  "layer":[
  {"mark":{"type":"arc","outerRadius":206,"innerRadius":84,"padAngle":0.012},"encoding":{"x":{"datum":1742,"type":"quantitative"},"y":{"datum":1476,"type":"quantitative"},"theta":{"field":"v0","type":"quantitative","scale":{"domain":[0,99.1],"range":[6.2832,3.1416]}},"theta2":{"field":"v1"},"color":{"condition":{"test":"datum.category=='1 A 3 HORAS'","value":"#333333"},"value":"#e2aa1b"}}},
  {"transform":[{"filter":"datum.category=='1 A 3 HORAS'"}],"layer":[
   {"mark":{"type":"rule","color":"#1b1b1b","strokeWidth":2.5},"encoding":{"x":{"datum":1379,"type":"quantitative"},"x2":{"datum":1706},"y":{"datum":1241,"type":"quantitative"}}},
   {"mark":{"type":"rule","color":"#1b1b1b","strokeWidth":2.5},"encoding":{"x":{"datum":1706,"type":"quantitative"},"y":{"datum":1241,"type":"quantitative"},"y2":{"datum":1282}}},
   {"mark":{"type":"circle","size":100,"color":"#111111","opacity":1},"encoding":{"x":{"datum":1706,"type":"quantitative"},"y":{"datum":1282,"type":"quantitative"}}},
   {"mark":{"type":"text","align":"left","baseline":"alphabetic","fontSize":24,"fontWeight":"bold","lineHeight":30,"lineBreak":"\n"},"encoding":{"x":{"datum":1315,"type":"quantitative"},"y":{"datum":1220,"type":"quantitative"},"text":{"field":"txt"}}}]},
  {"transform":[{"filter":"datum.category=='3 A 5 HORAS'"}],"layer":[
   {"mark":{"type":"rule","color":"#1b1b1b","strokeWidth":2.5},"encoding":{"x":{"datum":1379,"type":"quantitative"},"x2":{"datum":1554},"y":{"datum":1469,"type":"quantitative"}}},
   {"mark":{"type":"circle","size":100,"color":"#111111","opacity":1},"encoding":{"x":{"datum":1554,"type":"quantitative"},"y":{"datum":1469,"type":"quantitative"}}},
   {"mark":{"type":"text","align":"left","baseline":"alphabetic","fontSize":24,"lineHeight":30,"lineBreak":"\n"},"encoding":{"x":{"datum":1315,"type":"quantitative"},"y":{"datum":1447,"type":"quantitative"},"text":{"field":"txt"}}}]},
  {"transform":[{"filter":"datum.category=='5 A 8 HORAS'"}],"layer":[
   {"mark":{"type":"rule","color":"#1b1b1b","strokeWidth":2.5},"encoding":{"x":{"datum":1360,"type":"quantitative"},"x2":{"datum":1598},"y":{"datum":1590,"type":"quantitative"}}},
   {"mark":{"type":"circle","size":100,"color":"#111111","opacity":1},"encoding":{"x":{"datum":1598,"type":"quantitative"},"y":{"datum":1590,"type":"quantitative"}}},
   {"mark":{"type":"text","align":"left","baseline":"alphabetic","fontSize":24,"lineHeight":30,"lineBreak":"\n"},"encoding":{"x":{"datum":1315,"type":"quantitative"},"y":{"datum":1565,"type":"quantitative"},"text":{"field":"txt"}}}]},
  {"transform":[{"filter":"datum.category=='8 A 10 HORAS'"}],"layer":[
   {"mark":{"type":"rule","color":"#1b1b1b","strokeWidth":2.5},"encoding":{"x":{"datum":1360,"type":"quantitative"},"x2":{"datum":1667},"y":{"datum":1660,"type":"quantitative"}}},
   {"mark":{"type":"circle","size":100,"color":"#111111","opacity":1},"encoding":{"x":{"datum":1667,"type":"quantitative"},"y":{"datum":1660,"type":"quantitative"}}},
   {"mark":{"type":"text","align":"left","baseline":"alphabetic","fontSize":24,"lineHeight":30,"lineBreak":"\n"},"encoding":{"x":{"datum":1315,"type":"quantitative"},"y":{"datum":1641,"type":"quantitative"},"text":{"field":"txt"}}}]},
  {"transform":[{"filter":"datum.category=='10 A 12 HORAS'"}],"layer":[
   {"mark":{"type":"rule","color":"#1b1b1b","strokeWidth":2.5},"encoding":{"x":{"datum":1360,"type":"quantitative"},"x2":{"datum":1702},"y":{"datum":1730,"type":"quantitative"}}},
   {"mark":{"type":"rule","color":"#1b1b1b","strokeWidth":2.5},"encoding":{"x":{"datum":1702,"type":"quantitative"},"y":{"datum":1661,"type":"quantitative"},"y2":{"datum":1730}}},
   {"mark":{"type":"circle","size":100,"color":"#111111","opacity":1},"encoding":{"x":{"datum":1702,"type":"quantitative"},"y":{"datum":1661,"type":"quantitative"}}},
   {"mark":{"type":"text","align":"left","baseline":"alphabetic","fontSize":24,"lineHeight":30,"lineBreak":"\n"},"encoding":{"x":{"datum":1315,"type":"quantitative"},"y":{"datum":1708,"type":"quantitative"},"text":{"field":"txt"}}}]},
  {"transform":[{"filter":"datum.category=='MAIS DE 12 HORAS'"}],"layer":[
   {"mark":{"type":"rule","color":"#1b1b1b","strokeWidth":2.5},"encoding":{"x":{"datum":1734,"type":"quantitative"},"y":{"datum":1661,"type":"quantitative"},"y2":{"datum":1745}}},
   {"mark":{"type":"circle","size":100,"color":"#111111","opacity":1},"encoding":{"x":{"datum":1734,"type":"quantitative"},"y":{"datum":1661,"type":"quantitative"}}},
   {"mark":{"type":"text","align":"right","baseline":"alphabetic","fontSize":24,"lineHeight":31,"lineBreak":"\n"},"encoding":{"x":{"datum":1752,"type":"quantitative"},"y":{"datum":1779,"type":"quantitative"},"text":{"field":"txt"}}}]}
 ]}
 ]}
]
}
